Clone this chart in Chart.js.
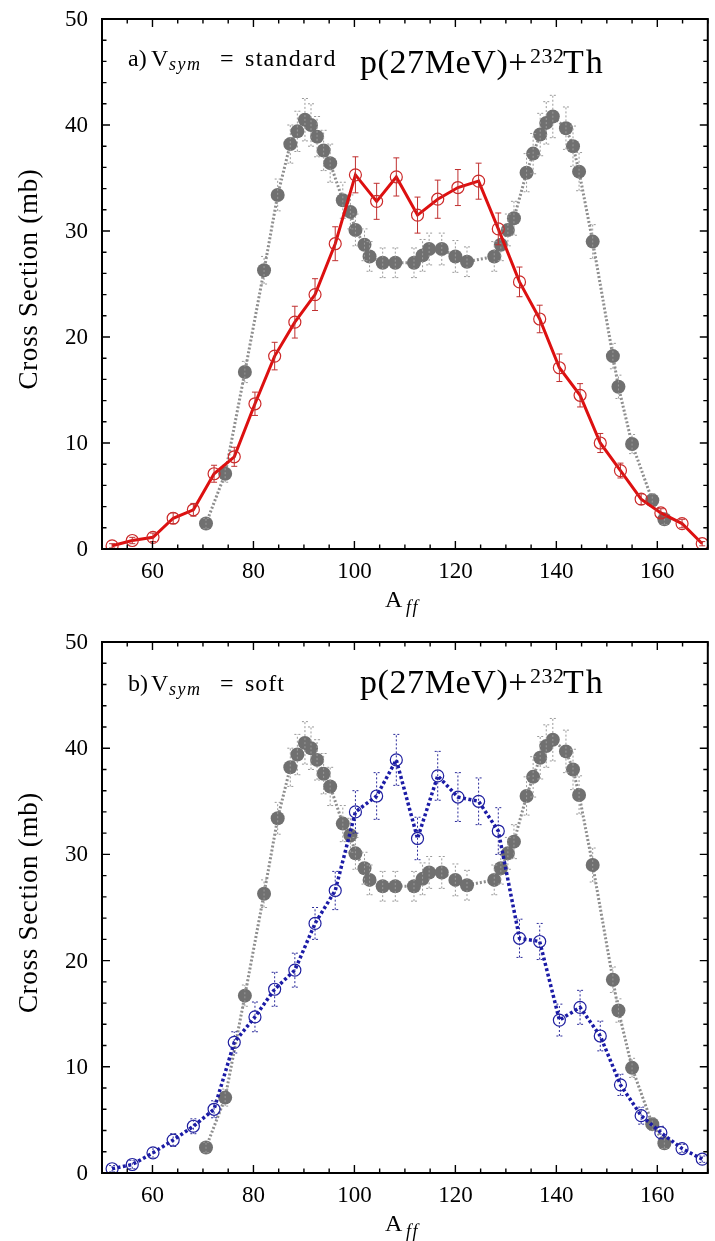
<!DOCTYPE html>
<html>
<head>
<meta charset="utf-8">
<title>p(27MeV)+232Th fragment mass distributions</title>
<script src="https://cdn.jsdelivr.net/npm/chart.js@4"></script>
<style>
  html, body { margin: 0; padding: 0; background: #fff; }
  canvas { display: block; }
</style>
</head>
<body>
<canvas id="panelA" width="715" height="620"></canvas>
<canvas id="panelB" width="715" height="621"></canvas>
<script>
// axes
const xRange = [50, 170];
const xTicks = [60, 80, 100, 120, 140, 160];
const yTicks = [0, 10, 20, 30, 40, 50];

// experimental points (grey filled circles), same in both panels
const expA = [70.6, 74.4, 78.3, 82.1, 84.8, 87.3, 88.7, 90.2, 91.4, 92.6, 93.9, 95.2,
  97.7, 99.2, 100.2, 102.0, 103.0, 105.6, 108.1, 111.8, 113.5, 114.8, 117.3, 120.0,
  122.3, 127.7, 129.0, 130.4, 131.6, 134.1, 135.4, 136.8, 138.0, 139.3, 141.9, 143.3,
  144.5, 147.2, 151.2, 152.3, 155.0, 159.0, 161.4];
const expXS = [2.4, 7.1, 16.7, 26.3, 33.4, 38.2, 39.4, 40.5, 40.0, 38.9, 37.6, 36.4,
  32.9, 31.8, 30.1, 28.7, 27.6, 27.0, 27.0, 27.0, 27.7, 28.3, 28.3, 27.6,
  27.1, 27.6, 28.7, 30.1, 31.2, 35.5, 37.3, 39.1, 40.2, 40.8, 39.7, 38.0,
  35.6, 29.0, 18.2, 15.3, 9.9, 4.6, 2.8];
const expErr = [0.5, 0.8, 1.0, 1.3, 1.5, 1.8, 1.9, 2.0, 2.0, 1.9, 1.9, 1.8,
  1.7, 1.6, 1.5, 1.5, 1.4, 1.4, 1.4, 1.4, 1.5, 1.5, 1.5, 1.5,
  1.4, 1.4, 1.5, 1.5, 1.6, 1.8, 1.9, 2.0, 2.0, 2.0, 2.0, 1.9,
  1.8, 1.6, 1.2, 1.1, 0.9, 0.6, 0.5];

// calculations (open circles)
const calcA = [52.0, 56.0, 60.1, 64.1, 68.1, 72.2, 76.2, 80.3, 84.2, 88.2, 92.2, 96.2,
  100.2, 104.4, 108.3, 112.5, 116.5, 120.5, 124.6, 128.5, 132.7, 136.7, 140.6, 144.7,
  148.7, 152.7, 156.8, 160.7, 164.9, 168.9];
const stdXS = [0.3, 0.8, 1.1, 2.9, 3.7, 7.1, 8.7, 13.7, 18.2, 21.4, 24.0, 28.8,
  35.3, 32.8, 35.1, 31.5, 33.0, 34.1, 34.7, 30.2, 25.2, 21.7, 17.1, 14.5,
  10.0, 7.4, 4.7, 3.4, 2.4, 0.5];
const stdErr = [0.2, 0.3, 0.4, 0.5, 0.6, 0.8, 0.9, 1.1, 1.3, 1.5, 1.5, 1.6,
  1.7, 1.7, 1.8, 1.7, 1.8, 1.7, 1.7, 1.5, 1.4, 1.3, 1.3, 1.1,
  0.9, 0.7, 0.5, 0.4, 0.4, 0.2];
const softXS = [0.4, 0.8, 1.9, 3.1, 4.4, 6.0, 12.3, 14.7, 17.3, 19.1, 23.5, 26.6,
  34.0, 35.5, 38.9, 31.5, 37.4, 35.4, 35.0, 32.2, 22.1, 21.8, 14.4, 15.6,
  12.9, 8.3, 5.4, 3.8, 2.3, 1.3];
const softErr = [0.3, 0.4, 0.5, 0.6, 0.7, 0.8, 1.0, 1.4, 1.6, 1.6, 1.5, 1.8,
  2.0, 2.2, 2.4, 2.0, 2.3, 2.3, 2.2, 2.2, 1.8, 1.7, 1.5, 1.6,
  1.4, 1.0, 0.8, 0.6, 0.4, 0.3];

const serif = '"Liberation Serif", "Times New Roman", serif';

function pts(xs, ys) {
  return xs.map((x, i) => ({ x: x, y: ys[i] }));
}

// text pieces placed at their own x (sub/superscripts)
function drawParts(ctx, y, parts) {
  for (const p of parts) {
    ctx.font = p.font;
    ctx.letterSpacing = (p.sp || 0) + 'px';
    ctx.fillText(p.t, p.x, y + (p.dy || 0));
  }
  ctx.letterSpacing = '0px';
}

const decor = {
  id: 'decor',
  afterDatasetDraw(chart, args) {
    const ds = chart.data.datasets[args.index];
    if (!ds.err) return;
    const ctx = chart.ctx;
    const xs = chart.scales.x, ys = chart.scales.y;
    ctx.save();
    ctx.strokeStyle = ds.errColor;
    ctx.lineWidth = 1;
    ctx.setLineDash(ds.errDash || []);
    ds.data.forEach((p, i) => {
      const px = xs.getPixelForValue(p.x);
      const y1 = ys.getPixelForValue(p.y - ds.err[i]);
      const y2 = ys.getPixelForValue(p.y + ds.err[i]);
      ctx.beginPath();
      ctx.moveTo(px, y1); ctx.lineTo(px, y2);
      ctx.moveTo(px - 3, y1); ctx.lineTo(px + 3, y1);
      ctx.moveTo(px - 3, y2); ctx.lineTo(px + 3, y2);
      ctx.stroke();
    });
    ctx.restore();
  },
  afterDraw(chart) {
    const ctx = chart.ctx;
    const a = chart.chartArea;
    const xs = chart.scales.x, ys = chart.scales.y;
    const o = chart.options.plugins.decor;
    ctx.save();
    ctx.strokeStyle = '#000';
    ctx.lineWidth = 2;
    ctx.strokeRect(a.left, a.top, a.right - a.left, a.bottom - a.top);

    // inward ticks on all four sides
    ctx.lineWidth = 1.4;
    ctx.beginPath();
    for (let v = xRange[0]; v <= xRange[1]; v += 5) {
      const px = xs.getPixelForValue(v);
      const len = xTicks.includes(v) ? 8 : 4.5;
      ctx.moveTo(px, a.bottom); ctx.lineTo(px, a.bottom - len);
      ctx.moveTo(px, a.top); ctx.lineTo(px, a.top + len);
    }
    for (let v = 0; v <= 50; v += 2) {
      const py = ys.getPixelForValue(v);
      const len = yTicks.includes(v) ? 8 : 4.5;
      ctx.moveTo(a.left, py); ctx.lineTo(a.left + len, py);
      ctx.moveTo(a.right, py); ctx.lineTo(a.right - len, py);
    }
    ctx.stroke();

    // tick labels
    ctx.fillStyle = '#000';
    ctx.font = '23px ' + serif;
    ctx.textAlign = 'center';
    ctx.textBaseline = 'alphabetic';
    xTicks.forEach(v => ctx.fillText(String(v), xs.getPixelForValue(v), a.bottom + 29));
    ctx.textAlign = 'right';
    ctx.textBaseline = 'middle';
    yTicks.forEach(v => ctx.fillText(String(v), 88, ys.getPixelForValue(v) + 1));

    ctx.textAlign = 'left';
    ctx.textBaseline = 'alphabetic';
    drawParts(ctx, o.labelY, o.label);
    drawParts(ctx, o.titleY, [
      { t: 'p(27MeV)+', x: 360, font: '34px ' + serif, sp: 0.6 },
      { t: '232', x: 530, font: '22px ' + serif, dy: -10, sp: 0.5 },
      { t: 'Th', x: 563, font: '34px ' + serif, sp: 2 }
    ]);

    // x axis title
    drawParts(ctx, a.bottom + 58, [
      { t: 'A', x: 385, font: '24px ' + serif },
      { t: 'ff', x: 406, font: 'italic 18px ' + serif, dy: 6, sp: 1.5 }
    ]);

    // y axis title
    ctx.translate(37, (a.top + a.bottom) / 2 - 5);
    ctx.rotate(-Math.PI / 2);
    ctx.textAlign = 'center';
    ctx.font = '27px ' + serif;
    ctx.letterSpacing = '0.7px';
    ctx.fillText('Cross Section (mb)', 0, 0);
    ctx.restore();
  }
};

function makePanel(id, calcXS, calcErr, style, opt) {
  const canvas = document.getElementById(id);
  return new Chart(canvas, {
    type: 'scatter',
    data: {
      datasets: [
        {
          data: pts(calcA, calcXS),
          err: calcErr,
          errColor: style.errColor,
          errDash: style.errDash,
          showLine: true,
          borderColor: style.line,
          borderWidth: style.lineWidth,
          borderDash: style.dash,
          pointStyle: 'circle',
          pointRadius: 6,
          pointBorderWidth: 1.2,
          pointBorderColor: style.marker,
          pointBackgroundColor: 'rgba(0,0,0,0)',
          order: 0
        },
        {
          data: pts(expA, expXS),
          err: expErr,
          errColor: '#9a9a9a',
          errDash: [2, 2],
          showLine: true,
          borderColor: '#8e8e8e',
          borderWidth: 3,
          borderDash: [2, 2],
          pointStyle: 'circle',
          pointRadius: 7,
          pointBorderWidth: 0,
          pointBackgroundColor: '#707070',
          order: 1
        }
      ]
    },
    options: {
      responsive: false,
      animation: false,
      layout: { padding: { top: opt.top, right: 2, left: 0, bottom: 0 } },
      plugins: {
        legend: { display: false },
        tooltip: { enabled: false },
        decor: opt
      },
      scales: {
        x: {
          type: 'linear',
          min: xRange[0],
          max: xRange[1],
          afterBuildTicks(s) { s.ticks = xTicks.map(v => ({ value: v })); },
          afterFit(s) { s.height = opt.xHeight; },
          grid: { display: false, drawTicks: false },
          border: { display: false },
          ticks: { display: false }
        },
        y: {
          type: 'linear',
          min: 0,
          max: 50,
          afterBuildTicks(s) { s.ticks = yTicks.map(v => ({ value: v })); },
          afterFit(s) { s.width = 102; },
          grid: { display: false, drawTicks: false },
          border: { display: false },
          ticks: { display: false }
        }
      }
    },
    plugins: [decor]
  });
}

makePanel('panelA', stdXS, stdErr,
  { line: '#dd1010', lineWidth: 3, dash: [], marker: '#cc2a2a', errColor: '#c03030', errDash: [] },
  {
    top: 19, xHeight: 71, labelY: 66, titleY: 73,
    label: [
      { t: 'a)', x: 128, font: '24px ' + serif },
      { t: 'V', x: 151, font: '24px ' + serif },
      { t: 'sym', x: 169, font: 'italic 18px ' + serif, dy: 4, sp: 1.5 },
      { t: '=', x: 220, font: '24px ' + serif },
      { t: 'standard', x: 245, font: '24px ' + serif, sp: 1.3 }
    ]
  });

makePanel('panelB', softXS, softErr,
  { line: '#1b1ba6', lineWidth: 3.5, dash: [3, 2.5], marker: '#2020a0', errColor: '#2a2a9a', errDash: [2, 2] },
  {
    top: 22, xHeight: 68, labelY: 71, titleY: 73,
    label: [
      { t: 'b)', x: 128, font: '24px ' + serif },
      { t: 'V', x: 151, font: '24px ' + serif },
      { t: 'sym', x: 169, font: 'italic 18px ' + serif, dy: 4, sp: 1.5 },
      { t: '=', x: 220, font: '24px ' + serif },
      { t: 'soft', x: 245, font: '24px ' + serif, sp: 1 }
    ]
  });
</script>
</body>
</html>
